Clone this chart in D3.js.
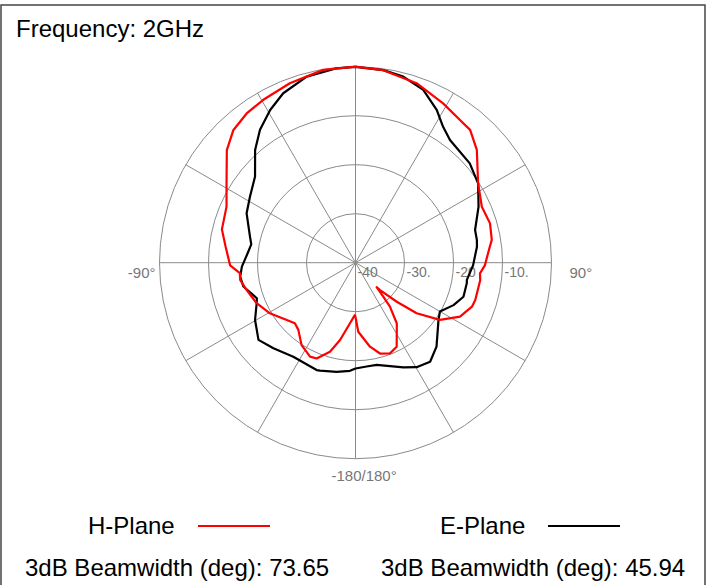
<!DOCTYPE html>
<html>
<head>
<meta charset="utf-8">
<script src="https://cdn.jsdelivr.net/npm/d3@7"></script>
<style>
  body { margin: 0; background: #fff; }
  text { font-family: "Liberation Sans", Arial, sans-serif; }
</style>
</head>
<body>
<svg id="chart" width="707" height="585"></svg>
<script>
// Ring values (dB) and spoke angles (deg)
const ringValues = [-40, -30, -20, -10, 0];
const ringLabels = ["-40", "-30.", "-20", "-10."];
const spokeAngles = d3.range(0, 360, 30);

// H-Plane (red): angle in degrees (0 = top, clockwise), gain in dB
const hAngles = [-179.5, -174.8, -168.7, -164, -157.9, -154.2, -146.8, -139.6, -135, -120.6,
  -112.3, -104.1, -98.5, -95.2, -91.2, -83, -76, -66.5, -58.4, -48.8, -42.6, -36.1, -29.5,
  -20.1, -9.5, 0, 8.2, 18.8, 28.8, 36.2, 40.8, 47.1, 57.1, 66.1, 73.7, 80.5, 83.2, 91.2,
  94.9, 98, 107.3, 110.7, 117.3, 124.1, 129.6, 133.4, 138.1, 139.2, 140.7, 141.9, 145.8,
  153.9, 159.2, 164.9, 170.2, 177.7, 180.5];
const hValues = [-29.4, -27.6, -23.9, -21.1, -18.9, -18.7, -19.9, -22, -22.5, -19.7,
  -18.2, -17.1, -16.2, -16.3, -14.4, -13.3, -11.9, -11.3, -9.1, -5.1, -3.2, -2.3, -1.8,
  -1.0, -0.1, 0, -0.3, -1.3, -2.9, -3.9, -4.2, -6.2, -10.2, -11.8, -11.4, -11.8, -12.4, -13.6,
  -14.5, -14.3, -14.4, -14.6, -16, -19.2, -23.8, -28.4, -32.5, -33.4, -31, -28.6, -25,
  -20.9, -20.2, -20.8, -22.6, -25.9, -29.4];

// E-Plane (black)
const eAngles = [-180, -177.1, -170.2, -161.8, -160.1, -146.5, -136.2, -128.5, -119.7, -112.3,
  -109.8, -102, -96.9, -92, -85, -80, -76, -65.6, -58, -49.4, -41.7, -35.7, -29.2, -23.1,
  -14.7, -5.5, 0, 8.2, 14.4, 21.4, 28, 32.8, 37.6, 49, 57.1, 65.5, 74.7, 79.4, 82.5, 91.3,
  98.8, 100.5, 107.5, 113.4, 120, 124.7, 136, 143, 149.7, 155.4, 168.3, 173.9, 180];
const eValues = [-18.4, -17.9, -17.4, -16.8, -16.7, -17, -15.8, -14.7, -16.4, -18.2,
  -18.6, -16.6, -16.3, -16.8, -17.9, -18.4, -17.8, -15.6, -14.6, -13, -9.2, -6.6, -4.3, -2.4,
  -0.75, -0.14, -0.05, -0.3, -0.8, -2.1, -4.7, -7, -8.4, -9.1, -10.2, -12.4, -14.7, -14.8, -15, -16,
  -17, -16.9, -16.9, -18.2, -20.1, -19.4, -16.2, -14.7, -15.3, -16.5, -18.7, -18.7, -18.4];

const svg = d3.select("#chart");
const cx = 355.5, cy = 262.7, R = 196;
const gridColor = "#8a8a8a";

// Frame
svg.append("rect")
  .attr("x", 1).attr("y", 5)
  .attr("width", 704).attr("height", 620)
  .attr("fill", "none")
  .attr("stroke", "#444")
  .attr("stroke-width", 1.5);

// Title
svg.append("text")
  .attr("x", 16).attr("y", 37)
  .style("font-size", "24px")
  .text("Frequency: 2GHz");

const r = d3.scaleLinear().domain([-40, 0]).range([0, R]);

const g = svg.append("g").attr("transform", `translate(${cx},${cy})`);

// Rings
g.selectAll("circle.ring")
  .data(ringValues.slice(1))
  .join("circle")
  .attr("class", "ring")
  .attr("r", d => r(d))
  .attr("fill", "none")
  .attr("stroke", gridColor)
  .attr("stroke-width", 1);

// Spokes
g.selectAll("line.spoke")
  .data(spokeAngles)
  .join("line")
  .attr("class", "spoke")
  .attr("x1", 0).attr("y1", 0)
  .attr("x2", d => R * Math.sin(d * Math.PI / 180))
  .attr("y2", d => -R * Math.cos(d * Math.PI / 180))
  .attr("stroke", gridColor)
  .attr("stroke-width", 1);

// Ring labels along the 90° axis
g.selectAll("text.ringLabel")
  .data(ringLabels)
  .join("text")
  .attr("class", "ringLabel")
  .attr("x", (d, i) => r(ringValues[i]) + 2)
  .attr("y", 14)
  .attr("fill", "#777")
  .style("font-size", "14px")
  .text(d => d);

// Angle labels
g.append("text").attr("x", -R - 4).attr("y", 15)
  .attr("text-anchor", "end").attr("fill", "#777")
  .style("font-size", "15px").text("-90°");
g.append("text").attr("x", R + 18).attr("y", 15)
  .attr("fill", "#777")
  .style("font-size", "15px").text("90°");
g.append("text").attr("x", -24).attr("y", R + 22)
  .attr("fill", "#777")
  .style("font-size", "15px").text("-180/180°");

// Pattern lines
const radial = d3.lineRadial()
  .angle(d => d[0] * Math.PI / 180)
  .radius(d => r(d[1]));

const eData = eAngles.map((a, i) => [a, eValues[i]]);
const hData = hAngles.map((a, i) => [a, hValues[i]]);

g.append("path")
  .attr("d", radial(eData))
  .attr("fill", "none")
  .attr("stroke", "#000")
  .attr("stroke-width", 2.2)
  .attr("stroke-linejoin", "round");

g.append("path")
  .attr("d", radial(hData))
  .attr("fill", "none")
  .attr("stroke", "#ff0000")
  .attr("stroke-width", 2.2)
  .attr("stroke-linejoin", "round");

// Legend
const legend = [
  { name: "H-Plane", color: "#ff0000", bw: "73.65", tx: 88, lx: 198, bx: 25 },
  { name: "E-Plane", color: "#000", bw: "45.94", tx: 440, lx: 548, bx: 381 }
];
legend.forEach(d => {
  svg.append("text").attr("x", d.tx).attr("y", 534)
    .style("font-size", "24px").text(d.name);
  svg.append("line")
    .attr("x1", d.lx).attr("x2", d.lx + 72)
    .attr("y1", 526).attr("y2", 526)
    .attr("stroke", d.color).attr("stroke-width", 2);
  svg.append("text").attr("x", d.bx).attr("y", 576)
    .style("font-size", "24px").text("3dB Beamwidth (deg): " + d.bw);
});
</script>
</body>
</html>
